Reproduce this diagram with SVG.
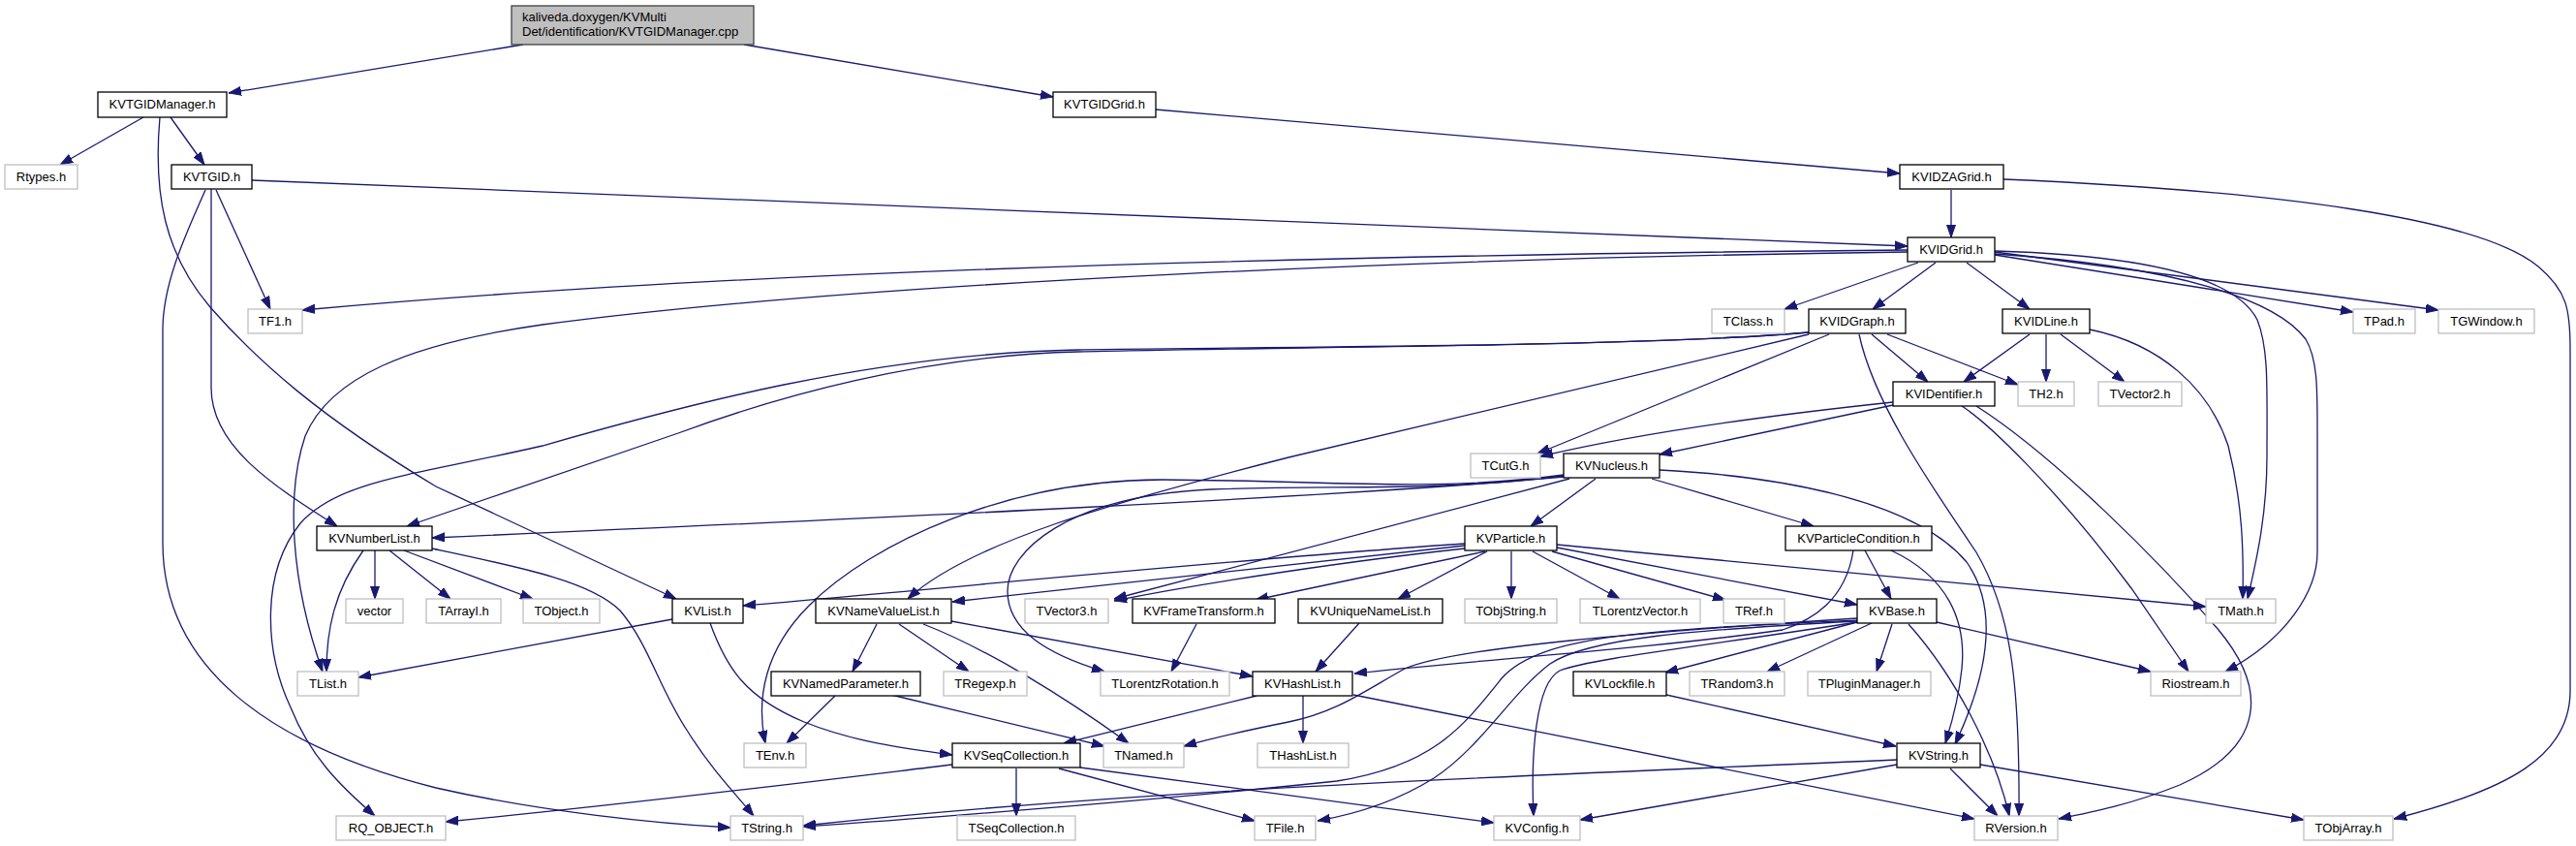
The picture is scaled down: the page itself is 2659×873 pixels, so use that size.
<svg xmlns="http://www.w3.org/2000/svg" width="2659" height="873" viewBox="0 0 2659 873">
<style>
.n rect{fill:#fff;stroke:#000;stroke-width:1.3}
.x rect{fill:#fff;stroke:#bfbfbf;stroke-width:1.3}
.r rect{fill:#bfbfbf;stroke:#404040;stroke-width:1.3}
text{font-family:"Liberation Sans",Arial,sans-serif;font-size:13px;fill:#000;text-anchor:middle}
.r text{text-anchor:start}
#edges path{fill:none;stroke:#191970;stroke-width:1.3;marker-end:url(#a)}
</style>
<defs>
<marker id="a" markerUnits="userSpaceOnUse" markerWidth="13" markerHeight="10" viewBox="0 0 13 10" refX="13" refY="5" orient="auto"><path d="M0,0.5 L13,5 L0,9.5 Z" fill="#191970" stroke="#191970" stroke-width="1"/></marker>
</defs>
<rect width="2659" height="873" fill="#fff"/>
<g id="edges">
<path d="M540,46 L236,96"/>
<path d="M768,46 L1087,100"/>
<path d="M148,121 L62,170"/>
<path d="M176,121 L211,170"/>
<path d="M165,121 C158,200 170,262 217,317 C265,372 330,430 450,502 L698,618"/>
<path d="M1193,113 L1961,179"/>
<path d="M223,196 L279,319"/>
<path d="M260,186 L1969,254"/>
<path d="M218,195 L218,400 C218,460 280,500 348,543"/>
<path d="M212,196 C195,235 168,290 168,340 L168,560 C168,690 280,770 450,813 C560,838 680,850 754,854"/>
<path d="M2014,196 L2014,245"/>
<path d="M2068,185 C2350,197 2560,225 2620,275 C2650,300 2653,320 2653,360 L2653,713 C2653,780 2590,815 2471,845"/>
<path d="M1969,258 C1500,262 800,275 312,320"/>
<path d="M1969,260 C1500,266 900,290 560,335 C420,355 340,390 315,450 C295,510 300,600 333,693"/>
<path d="M1980,271 L1842,319"/>
<path d="M1998,271 L1933,319"/>
<path d="M2030,271 L2095,319"/>
<path d="M2059,263 L2429,322"/>
<path d="M2059,260 L2517,320"/>
<path d="M2059,259 C2230,264 2310,290 2330,330 C2342,360 2340,400 2340,470 C2340,530 2330,575 2320,618"/>
<path d="M2059,262 C2250,275 2350,310 2380,350 C2392,370 2392,400 2392,440 L2392,570 C2392,610 2360,660 2297,693"/>
<path d="M1867,343 C1700,358 1300,358 1113,361 C900,365 700,420 560,460 C430,490 350,495 310,540 C270,590 272,670 300,730 C320,780 350,810 387,842"/>
<path d="M1867,343 C1700,358 1300,358 1113,363 C950,367 800,410 700,447 C600,482 500,515 420,543"/>
<path d="M1867,345 L1330,472 C1150,518 1000,560 937,618"/>
<path d="M1888,345 L1587,468"/>
<path d="M1919,345 C1935,420 2000,510 2040,570 C2075,630 2085,700 2084,842"/>
<path d="M1932,345 L1990,394"/>
<path d="M1948,345 L2083,397"/>
<path d="M2095,345 L2027,394"/>
<path d="M2112,345 L2112,394"/>
<path d="M2127,345 L2193,394"/>
<path d="M2157,340 C2230,355 2280,400 2300,460 C2315,520 2316,570 2315,618"/>
<path d="M1954,415 C1850,426 1700,445 1590,471"/>
<path d="M1954,418 L1713,469"/>
<path d="M2025,419 C2050,435 2120,500 2200,607 L2259,693"/>
<path d="M2040,419 C2120,470 2230,580 2290,650 C2340,710 2340,770 2250,810 C2200,830 2160,838 2125,845"/>
<path d="M1647,494 L1580,543"/>
<path d="M1705,494 L1872,543"/>
<path d="M1713,485 C1850,492 1980,520 2030,580 C2065,630 2050,700 2018,768"/>
<path d="M1614,492 C1400,512 900,535 446,555"/>
<path d="M1614,490 C1480,508 1380,496 1200,495 C1040,495 900,560 835,625 C790,670 780,720 790,767"/>
<path d="M1614,491 C1480,508 1380,500 1250,505 C1100,512 1040,570 1040,610 C1040,650 1080,675 1140,693"/>
<path d="M1620,494 L1150,618"/>
<path d="M1512,566 C1400,578 1250,600 1150,620"/>
<path d="M1512,561 C1300,575 1000,605 767,625"/>
<path d="M1512,563 L983,621"/>
<path d="M1533,569 L1296,619"/>
<path d="M1535,569 L1443,618"/>
<path d="M1560,569 L1560,618"/>
<path d="M1582,569 L1672,618"/>
<path d="M1602,569 L1781,619"/>
<path d="M1607,565 L1917,624"/>
<path d="M1607,562 L2277,626"/>
<path d="M1925,568 L1952,618"/>
<path d="M1952,568 C2010,595 2030,640 2025,690 C2022,720 2015,745 2008,767"/>
<path d="M1913,568 C1905,620 1870,640 1840,650 C1700,670 1500,683 1398,695"/>
<path d="M1932,643 L1824,693"/>
<path d="M1953,644 L1937,693"/>
<path d="M1970,644 C2020,700 2060,780 2074,842"/>
<path d="M1999,642 L2220,693"/>
<path d="M1917,642 L1719,694"/>
<path d="M1917,638 C1700,652 1500,668 1450,690 C1410,712 1380,735 1330,745 C1290,753 1250,762 1222,770"/>
<path d="M1917,640 C1700,650 1590,655 1550,700 C1510,750 1480,790 1380,806 C1200,825 950,845 829,853"/>
<path d="M1917,641 C1750,650 1640,658 1600,685 C1560,715 1530,770 1480,803 C1440,828 1400,840 1360,847"/>
<path d="M1917,642 C1750,668 1640,680 1610,692 C1585,705 1580,780 1583,842"/>
<path d="M1720,717 L1957,770"/>
<path d="M1403,643 L1358,693"/>
<path d="M982,641 L1293,698"/>
<path d="M905,644 L880,693"/>
<path d="M928,644 L1000,693"/>
<path d="M953,644 C1020,670 1100,720 1165,767"/>
<path d="M862,718 L812,767"/>
<path d="M920,717 L1140,770"/>
<path d="M694,639 L370,699"/>
<path d="M733,643 C750,690 770,720 830,745 C880,765 930,772 983,779"/>
<path d="M1235,644 L1209,693"/>
<path d="M1297,718 L1098,767"/>
<path d="M1345,718 L1345,767"/>
<path d="M1397,717 L2038,845"/>
<path d="M1049,793 L1049,842"/>
<path d="M1093,793 L1295,847"/>
<path d="M1115,792 L1542,849"/>
<path d="M983,789 C850,805 650,830 460,848"/>
<path d="M1958,784 C1600,800 1200,812 829,852"/>
<path d="M1958,789 L1631,846"/>
<path d="M2013,793 L2062,842"/>
<path d="M2044,789 L2378,846"/>
<path d="M375,568 C345,610 337,650 337,693"/>
<path d="M387,568 L387,618"/>
<path d="M402,568 L465,618"/>
<path d="M417,568 L550,618"/>
<path d="M446,566 C540,586 610,600 640,630 C670,665 680,710 710,755 C735,795 760,820 778,842"/>
</g>
<g id="root" class="r"><rect x="528" y="6" width="250" height="40"/><text x="539" y="22">kaliveda.doxygen/KVMulti</text><text x="539" y="37">Det/identification/KVTGIDManager.cpp</text></g>
<g id="KVTGIDManager_h" class="n"><rect x="101" y="95" width="133" height="26"/><text x="167.5" y="112">KVTGIDManager.h</text></g>
<g id="KVTGIDGrid_h" class="n"><rect x="1087" y="95" width="106" height="26"/><text x="1140" y="112">KVTGIDGrid.h</text></g>
<g id="Rtypes_h" class="x"><rect x="5" y="170" width="75" height="25"/><text x="42.5" y="187">Rtypes.h</text></g>
<g id="KVTGID_h" class="n"><rect x="177" y="170" width="83" height="25"/><text x="218.5" y="187">KVTGID.h</text></g>
<g id="KVIDZAGrid_h" class="n"><rect x="1961" y="170" width="107" height="25"/><text x="2014.5" y="187">KVIDZAGrid.h</text></g>
<g id="KVIDGrid_h" class="n"><rect x="1969" y="245" width="90" height="25"/><text x="2014" y="262">KVIDGrid.h</text></g>
<g id="TF1_h" class="x"><rect x="256" y="319" width="56" height="25"/><text x="284" y="336">TF1.h</text></g>
<g id="TClass_h" class="x"><rect x="1767" y="319" width="75" height="25"/><text x="1804.5" y="336">TClass.h</text></g>
<g id="KVIDGraph_h" class="n"><rect x="1867" y="319" width="100" height="25"/><text x="1917" y="336">KVIDGraph.h</text></g>
<g id="KVIDLine_h" class="n"><rect x="2067" y="319" width="90" height="25"/><text x="2112" y="336">KVIDLine.h</text></g>
<g id="TPad_h" class="x"><rect x="2429" y="319" width="64" height="25"/><text x="2461" y="336">TPad.h</text></g>
<g id="TGWindow_h" class="x"><rect x="2517" y="319" width="99" height="25"/><text x="2566.5" y="336">TGWindow.h</text></g>
<g id="KVIDentifier_h" class="n"><rect x="1954" y="394" width="105" height="25"/><text x="2006.5" y="411">KVIDentifier.h</text></g>
<g id="TH2_h" class="x"><rect x="2083" y="394" width="58" height="25"/><text x="2112" y="411">TH2.h</text></g>
<g id="TVector2_h" class="x"><rect x="2166" y="394" width="86" height="25"/><text x="2209" y="411">TVector2.h</text></g>
<g id="TCutG_h" class="x"><rect x="1518" y="468" width="72" height="25"/><text x="1554" y="485">TCutG.h</text></g>
<g id="KVNucleus_h" class="n"><rect x="1614" y="468" width="99" height="25"/><text x="1663.5" y="485">KVNucleus.h</text></g>
<g id="KVNumberList_h" class="n"><rect x="327" y="543" width="119" height="25"/><text x="386.5" y="560">KVNumberList.h</text></g>
<g id="KVParticle_h" class="n"><rect x="1512" y="543" width="95" height="25"/><text x="1559.5" y="560">KVParticle.h</text></g>
<g id="KVParticleCondition_h" class="n"><rect x="1843" y="543" width="151" height="25"/><text x="1918.5" y="560">KVParticleCondition.h</text></g>
<g id="vector" class="x"><rect x="357" y="618" width="59" height="25"/><text x="386.5" y="635">vector</text></g>
<g id="TArrayI_h" class="x"><rect x="440" y="618" width="77" height="25"/><text x="478.5" y="635">TArrayI.h</text></g>
<g id="TObject_h" class="x"><rect x="540" y="618" width="79" height="25"/><text x="579.5" y="635">TObject.h</text></g>
<g id="KVList_h" class="n"><rect x="694" y="618" width="73" height="25"/><text x="730.5" y="635">KVList.h</text></g>
<g id="KVNameValueList_h" class="n"><rect x="842" y="618" width="140" height="25"/><text x="912" y="635">KVNameValueList.h</text></g>
<g id="TVector3_h" class="x"><rect x="1058" y="618" width="86" height="25"/><text x="1101" y="635">TVector3.h</text></g>
<g id="KVFrameTransform_h" class="n"><rect x="1169" y="618" width="147" height="25"/><text x="1242.5" y="635">KVFrameTransform.h</text></g>
<g id="KVUniqueNameList_h" class="n"><rect x="1340" y="618" width="149" height="25"/><text x="1414.5" y="635">KVUniqueNameList.h</text></g>
<g id="TObjString_h" class="x"><rect x="1512" y="618" width="95" height="25"/><text x="1559.5" y="635">TObjString.h</text></g>
<g id="TLorentzVector_h" class="x"><rect x="1631" y="618" width="124" height="25"/><text x="1693" y="635">TLorentzVector.h</text></g>
<g id="TRef_h" class="x"><rect x="1779" y="618" width="63" height="25"/><text x="1810.5" y="635">TRef.h</text></g>
<g id="KVBase_h" class="n"><rect x="1917" y="618" width="82" height="25"/><text x="1958" y="635">KVBase.h</text></g>
<g id="TMath_h" class="x"><rect x="2277" y="618" width="72" height="25"/><text x="2313" y="635">TMath.h</text></g>
<g id="TList_h" class="x"><rect x="307" y="693" width="63" height="25"/><text x="338.5" y="710">TList.h</text></g>
<g id="KVNamedParameter_h" class="n"><rect x="796" y="693" width="154" height="25"/><text x="873" y="710">KVNamedParameter.h</text></g>
<g id="TRegexp_h" class="x"><rect x="974" y="693" width="86" height="25"/><text x="1017" y="710">TRegexp.h</text></g>
<g id="TLorentzRotation_h" class="x"><rect x="1136" y="693" width="133" height="25"/><text x="1202.5" y="710">TLorentzRotation.h</text></g>
<g id="KVHashList_h" class="n"><rect x="1293" y="693" width="103" height="25"/><text x="1344.5" y="710">KVHashList.h</text></g>
<g id="KVLockfile_h" class="n"><rect x="1624" y="693" width="96" height="25"/><text x="1672" y="710">KVLockfile.h</text></g>
<g id="TRandom3_h" class="x"><rect x="1744" y="693" width="98" height="25"/><text x="1793" y="710">TRandom3.h</text></g>
<g id="TPluginManager_h" class="x"><rect x="1866" y="693" width="127" height="25"/><text x="1929.5" y="710">TPluginManager.h</text></g>
<g id="Riostream_h" class="x"><rect x="2220" y="693" width="93" height="25"/><text x="2266.5" y="710">Riostream.h</text></g>
<g id="TEnv_h" class="x"><rect x="768" y="767" width="64" height="25"/><text x="800" y="784">TEnv.h</text></g>
<g id="KVSeqCollection_h" class="n"><rect x="983" y="767" width="132" height="25"/><text x="1049" y="784">KVSeqCollection.h</text></g>
<g id="TNamed_h" class="x"><rect x="1139" y="767" width="83" height="25"/><text x="1180.5" y="784">TNamed.h</text></g>
<g id="THashList_h" class="x"><rect x="1298" y="767" width="94" height="25"/><text x="1345" y="784">THashList.h</text></g>
<g id="KVString_h" class="n"><rect x="1958" y="767" width="86" height="25"/><text x="2001" y="784">KVString.h</text></g>
<g id="RQ_OBJECT_h" class="x"><rect x="347" y="842" width="113" height="25"/><text x="403.5" y="859">RQ_OBJECT.h</text></g>
<g id="TString_h" class="x"><rect x="754" y="842" width="75" height="25"/><text x="791.5" y="859">TString.h</text></g>
<g id="TSeqCollection_h" class="x"><rect x="988" y="842" width="122" height="25"/><text x="1049" y="859">TSeqCollection.h</text></g>
<g id="TFile_h" class="x"><rect x="1295" y="842" width="63" height="25"/><text x="1326.5" y="859">TFile.h</text></g>
<g id="KVConfig_h" class="x"><rect x="1542" y="842" width="89" height="25"/><text x="1586.5" y="859">KVConfig.h</text></g>
<g id="RVersion_h" class="x"><rect x="2038" y="842" width="86" height="25"/><text x="2081" y="859">RVersion.h</text></g>
<g id="TObjArray_h" class="x"><rect x="2378" y="842" width="92" height="25"/><text x="2424" y="859">TObjArray.h</text></g>
</svg>
